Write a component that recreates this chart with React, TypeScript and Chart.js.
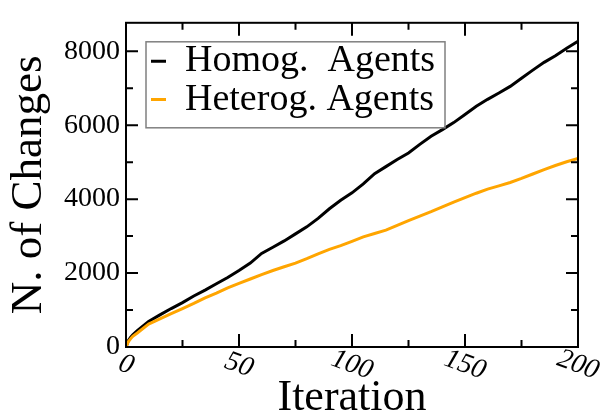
import { useEffect, useRef } from "react";
import { Chart, registerables } from "chart.js";

Chart.register(...registerables);

const iterations = [0, 1, 2, 3, 5, 10, 15, 20, 25, 30, 35, 40, 45, 50, 55, 60, 65, 70, 75, 80, 85, 90, 95, 100, 105, 110, 115, 120, 125, 130, 135, 140, 145, 150, 155, 160, 165, 170, 175, 180, 185, 190, 195, 200];
const homogChanges = [0, 170, 260, 330, 440, 690, 870, 1040, 1200, 1380, 1540, 1710, 1880, 2070, 2270, 2530, 2700, 2870, 3060, 3250, 3480, 3740, 3970, 4170, 4410, 4690, 4880, 5070, 5250, 5480, 5700, 5880, 6070, 6290, 6510, 6700, 6870, 7050, 7270, 7490, 7700, 7880, 8080, 8270];
const heterogChanges = [0, 140, 220, 290, 380, 620, 760, 900, 1040, 1180, 1330, 1460, 1600, 1720, 1840, 1960, 2070, 2170, 2270, 2390, 2520, 2640, 2740, 2860, 2980, 3070, 3160, 3290, 3420, 3540, 3660, 3790, 3920, 4040, 4160, 4270, 4360, 4450, 4560, 4680, 4800, 4910, 5010, 5100];

const seriesNames = ["Homog.  Agents", "Heterog. Agents"];
const xTitle = "Iteration";
const yTitle = "N. of Changes";
const xTickValues = [0, 50, 100, 150, 200];
const yTickValues = [0, 2000, 4000, 6000, 8000];
const xMin = 0;
const xMax = 200;
const yMin = 0;
const yMax = 8770;

const SERIF = "'Liberation Serif', 'Times New Roman', Times, serif";

const framePlugin = {
  id: "frameTicks",
  afterLayout(chart: any) {
    const lg = chart.legend;
    const a = chart.chartArea;
    if (lg && a) {
      const w = lg.width;
      const h = lg.height;
      lg.left = a.left + 24.7;
      lg.top = a.top + 19.2;
      lg.right = lg.left + w;
      lg.bottom = lg.top + h;
    }
  },
  afterDraw(chart: any) {
    const { ctx, chartArea: a, scales } = chart;
    const x = scales.x;
    const y = scales.y;
    ctx.save();
    ctx.strokeStyle = "#000";
    ctx.lineWidth = 2;
    ctx.strokeRect(a.left, a.top, a.right - a.left, a.bottom - a.top);

    const xv: number[] = x.ticks.map((t: any) => t.value);
    const yv: number[] = y.ticks.map((t: any) => t.value);

    const xMinor: number[] = [];
    for (let i = 0; i < xv.length - 1; i++) xMinor.push((xv[i] + xv[i + 1]) / 2);
    const yMinor: number[] = [];
    for (let i = 0; i < yv.length - 1; i++) yMinor.push((yv[i] + yv[i + 1]) / 2);
    if (yv.length > 1) {
      const nxt = yv[yv.length - 1] + (yv[1] - yv[0]) / 2;
      if (nxt < y.max) yMinor.push(nxt);
    }

    ctx.beginPath();
    const xTick = (v: number, len: number) => {
      const px = x.getPixelForValue(v);
      ctx.moveTo(px, a.bottom);
      ctx.lineTo(px, a.bottom - len);
      ctx.moveTo(px, a.top);
      ctx.lineTo(px, a.top + len);
    };
    const yTick = (v: number, len: number) => {
      const py = y.getPixelForValue(v);
      ctx.moveTo(a.left, py);
      ctx.lineTo(a.left + len, py);
      ctx.moveTo(a.right, py);
      ctx.lineTo(a.right - len, py);
    };
    xv.forEach((v) => xTick(v, 13));
    xMinor.forEach((v) => xTick(v, 7));
    yv.forEach((v) => yTick(v, 12));
    yMinor.forEach((v) => yTick(v, 7));
    ctx.stroke();

    // x tick labels (italic, rotated clockwise)
    ctx.fillStyle = "#000";
    ctx.font = `italic 28px ${SERIF}`;
    ctx.textAlign = "center";
    ctx.textBaseline = "middle";
    xv.forEach((v) => {
      const px = x.getPixelForValue(v);
      ctx.save();
      ctx.translate(px, a.bottom + 18);
      ctx.rotate((20 * Math.PI) / 180);
      ctx.fillText(String(v), 0, 0);
      ctx.restore();
    });

    // legend frame
    const lg = chart.legend;
    if (lg) {
      ctx.strokeStyle = "#808080";
      ctx.lineWidth = 1.5;
      ctx.strokeRect(lg.left - 2.7 - 2, lg.top - 0.2, 299, 86);
    }
    ctx.restore();
  },
};

export default function App() {
  const ref = useRef<HTMLCanvasElement>(null);
  useEffect(() => {
    document.body.style.margin = "0";
    const canvas = ref.current;
    if (!canvas) return;
    const homogPts = iterations.map((t, i) => ({ x: t, y: homogChanges[i] }));
    const heterogPts = iterations.map((t, i) => ({ x: t, y: heterogChanges[i] }));
    const chart = new Chart(canvas, {
      type: "line",
      data: {
        datasets: [
          {
            label: seriesNames[1],
            data: heterogPts,
            borderColor: "#FFA500",
            backgroundColor: "#FFA500",
            borderWidth: 3,
            pointRadius: 0,
            tension: 0,
            fill: false,
          },
          {
            label: seriesNames[0],
            data: homogPts,
            borderColor: "#000000",
            backgroundColor: "#000000",
            borderWidth: 3,
            pointRadius: 0,
            tension: 0,
            fill: false,
          },
        ],
      },
      options: {
        animation: false,
        responsive: false,
        devicePixelRatio: 1,
        events: [],
        layout: { padding: { top: 14, right: 25, bottom: 0, left: 0 } },
        plugins: {
          tooltip: { enabled: false },
          title: { display: false },
          legend: {
            position: "chartArea" as any,
            align: "start",
            labels: {
              usePointStyle: true,
              pointStyle: "line",
              pointStyleWidth: 15,
              padding: 0.3,
              color: "#000",
              font: { family: SERIF, size: 38 },
              sort: (a: any, b: any) => b.datasetIndex - a.datasetIndex,
            },
          },
        },
        scales: {
          x: {
            type: "linear",
            min: xMin,
            max: xMax,
            grid: { display: false },
            border: { display: false },
            ticks: { display: false },
            afterBuildTicks: (s: any) => {
              s.ticks = xTickValues.map((v) => ({ value: v }));
            },
            title: {
              display: true,
              text: xTitle,
              color: "#000",
              font: { family: SERIF, size: 44, lineHeight: 0.8 },
              padding: { top: 0, bottom: 0 },
            },
            afterFit: (s: any) => {
              s.height = 69;
            },
          },
          y: {
            type: "linear",
            min: yMin,
            max: yMax,
            grid: { display: false, drawTicks: false },
            border: { display: false },
            afterBuildTicks: (s: any) => {
              s.ticks = yTickValues.map((v) => ({ value: v }));
            },
            ticks: {
              color: "#000",
              padding: 6,
              font: { family: SERIF, size: 28 },
              callback: (v: any) => String(v),
            },
            title: {
              display: true,
              text: yTitle,
              color: "#000",
              font: { family: SERIF, size: 45, lineHeight: 1 },
              padding: { top: 7, bottom: 0 },
            },
            afterFit: (s: any) => {
              s.width = 126;
            },
          },
        },
      },
      plugins: [framePlugin],
    });
    return () => chart.destroy();
  }, []);
  return <canvas ref={ref} width={603} height={416} style={{ display: "block" }} />;
}
